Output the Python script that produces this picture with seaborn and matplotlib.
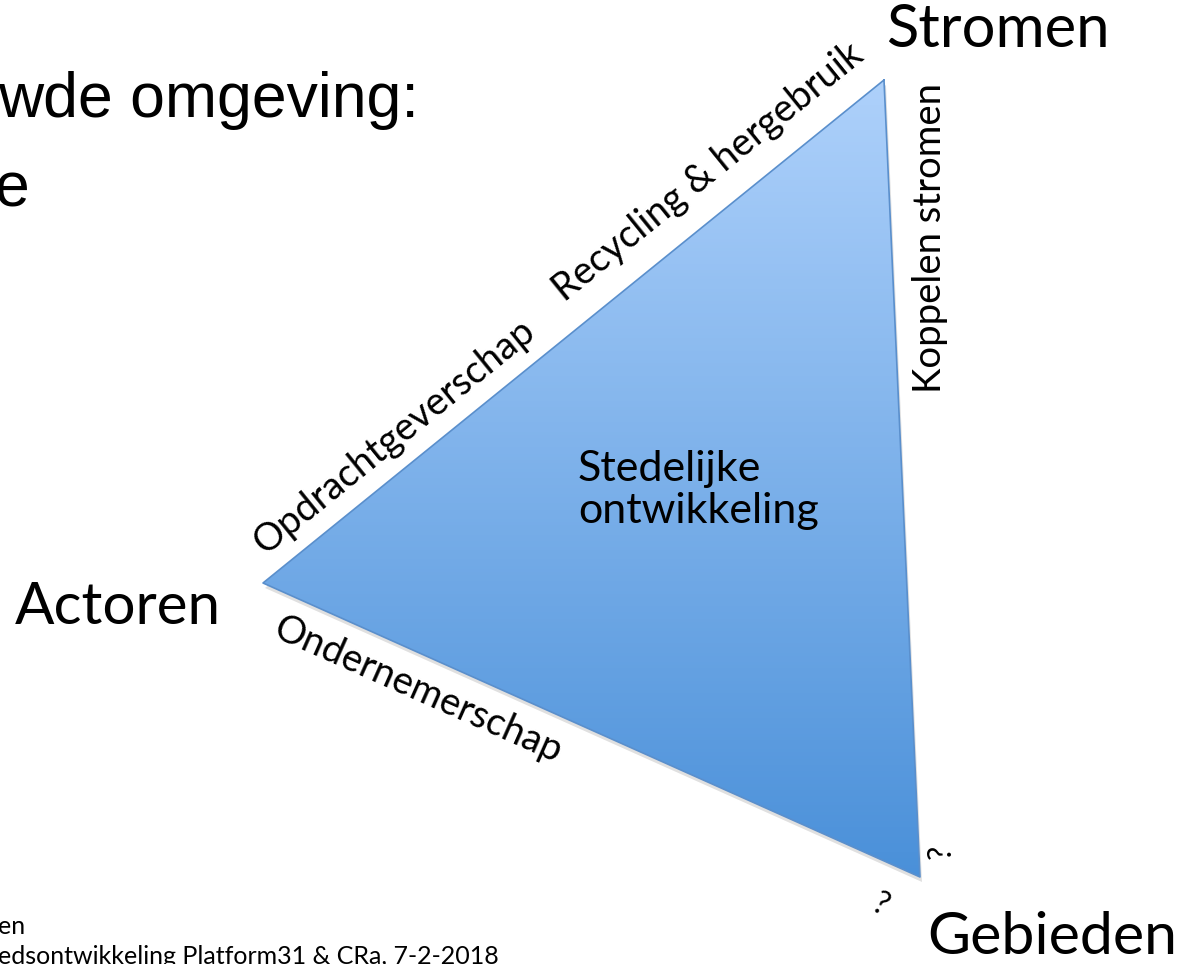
import numpy as np
import pandas as pd
import matplotlib.pyplot as plt
import seaborn as sns
from matplotlib.patches import Polygon
from matplotlib.colors import LinearSegmentedColormap

# Hoekpunten van de driehoek (pixels, y naar beneden)
vertex_names = ["Stromen", "Actoren", "Gebieden"]
vertex_x = [884, 263, 920]
vertex_y = [80, 583, 877]

# Teksten
edge_labels = ["Opdrachtgeverschap", "Recycling & hergebruik", "Koppelen stromen", "Ondernemerschap"]
center_label = "Stedelijke\nontwikkeling"
title_lines = ["wde omgeving:", "e"]
footer_lines = ["en", "edsontwikkeling Platform31 & CRa, 7-2-2018"]

sns.set_theme(style="white")
plt.rcParams['font.family'] = ['Lato', 'DejaVu Sans']
plt.rcParams['text.color'] = 'black'

fig = plt.figure(figsize=(11.89, 9.64), dpi=100)
ax = fig.add_axes([0, 0, 1, 1])

pts = np.column_stack([vertex_x, vertex_y])

# Schaduw
shadow = Polygon(pts + [2, 5], closed=True, facecolor="#000000", alpha=0.12, edgecolor="none")
ax.add_patch(shadow)

# Verloop van licht naar donker blauw
cmap = LinearSegmentedColormap.from_list("blauw", ["#aed1fb", "#4a90d9"])
grad = np.linspace(0, 1, 256).reshape(-1, 1)
img = ax.imshow(grad, cmap=cmap, aspect="auto",
                extent=(min(vertex_x), max(vertex_x), max(vertex_y), min(vertex_y)), zorder=2)
tri = Polygon(pts, closed=True, facecolor="none", edgecolor="none")
ax.add_patch(tri)
img.set_clip_path(tri)

# Rand van de driehoek
df = pd.DataFrame({"x": vertex_x + vertex_x[:1], "y": vertex_y + vertex_y[:1]})
sns.lineplot(data=df, x="x", y="y", sort=False, estimator=None, color="#5a8fcc", lw=1.2, ax=ax, zorder=3)
ax.set_xlim(0, 1189)
ax.set_ylim(964, 0)
ax.axis("off")

# Hoeklabels
ax.text(886, 30, vertex_names[0], fontsize=43, ha="left", va="center")
ax.text(15, 607, vertex_names[1], fontsize=42, ha="left", va="center")
ax.text(927, 938, vertex_names[2], fontsize=42.5, ha="left", va="center")

# Labels langs de randen
ax.text(394, 437, edge_labels[0], fontsize=27.5, rotation=39, ha="center", va="center", rotation_mode="anchor")
ax.text(708, 172, edge_labels[1], fontsize=27.5, rotation=39, ha="center", va="center", rotation_mode="anchor")
ax.text(930, 238, edge_labels[2], fontsize=27.5, rotation=90, ha="center", va="center")
ax.text(418, 690, edge_labels[3], fontsize=27.5, rotation=-24, ha="center", va="center", rotation_mode="anchor")

ax.text(578, 490, center_label, fontsize=31, ha="left", va="center", linespacing=1.15, zorder=4)

ax.text(942, 852, "?", fontsize=23, rotation=90, ha="center", va="center")
ax.text(880, 905, "?", fontsize=23, rotation=-27, ha="center", va="center")

# Titel (afgesneden links)
ax.text(-2, 100, title_lines[0], fontsize=45, family=["Liberation Sans", "DejaVu Sans"], ha="left", va="center")
ax.text(-6, 190, title_lines[1], fontsize=45, family=["Liberation Sans", "DejaVu Sans"], ha="left", va="center")

# Voetnoot
ax.text(-2, 926, footer_lines[0], fontsize=18, ha="left", va="center")
ax.text(-2, 957, footer_lines[1], fontsize=18, ha="left", va="center")

fig.savefig("out.png", dpi=100)
